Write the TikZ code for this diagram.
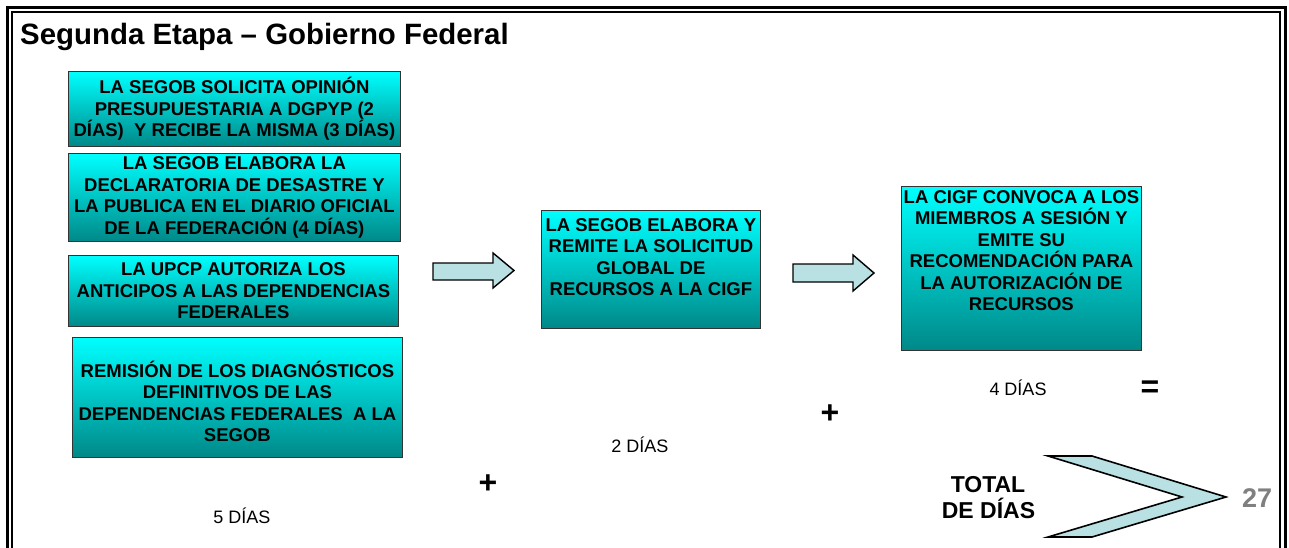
\documentclass[tikz,border=0pt]{standalone}
\usepackage{fontspec}
\setmainfont{Liberation Sans}
\definecolor{boxtop}{RGB}{0,255,255}
\definecolor{boxbot}{RGB}{0,136,136}
\definecolor{arrowfill}{RGB}{185,224,226}
\definecolor{numgray}{RGB}{128,128,128}
\newcommand{\mybox}[4]{\begin{minipage}[c][#2][#3]{#1}\centering\fontsize{18.5}{21.5}\selectfont\bfseries #4\end{minipage}}
\tikzset{
  stepbox/.style={draw=black!80, line width=0.8pt, top color=boxtop, bottom color=boxbot, inner sep=0pt, anchor=north west},
  blockarrow/.style={draw=black, line width=1.4pt, fill=arrowfill, line join=miter},
  daytext/.style={font=\fontsize{18}{21}\selectfont, anchor=base},
  optext/.style={font=\fontsize{32}{36}\selectfont\bfseries, anchor=center},
}
\begin{document}
\begin{tikzpicture}[x=1pt,y=-1pt]
\useasboundingbox (0,0) rectangle (1289,548);
\fill[white] (0,0) rectangle (1289,548);
% frame
\draw[line width=3pt] (7.5,560) -- (7.5,7.5) -- (1285.3,7.5) -- (1285.3,560);
\draw[line width=2pt] (12.2,560) -- (12.2,12.2) -- (1279.5,12.2) -- (1279.5,560);
% title
\node[anchor=base west, inner sep=0pt, font=\fontsize{29.4}{34}\selectfont\bfseries] (title) at (20,45) {Segunda Etapa – Gobierno Federal};
% left column boxes
\node[stepbox] (b1) at (68,71) {\mybox{332pt}{75pt}{c}{LA SEGOB SOLICITA OPINIÓN\\PRESUPUESTARIA A DGPYP (2\\DÍAS)\ \ Y RECIBE LA MISMA (3 DÍAS)}};
\node[stepbox] (b2) at (68,153) {\mybox{332pt}{88pt}{c}{LA SEGOB ELABORA LA\\DECLARATORIA DE DESASTRE Y\\LA PUBLICA EN EL DIARIO OFICIAL\\DE LA FEDERACIÓN (4 DÍAS)}};
\node[stepbox] (b3) at (68,255) {\mybox{330pt}{71pt}{c}{LA UPCP AUTORIZA LOS\\ANTICIPOS A LAS DEPENDENCIAS\\FEDERALES}};
\node[stepbox] (b4) at (72,337) {\mybox{330pt}{120pt}{c}{\vspace*{8pt}REMISIÓN DE LOS DIAGNÓSTICOS\\DEFINITIVOS DE LAS\\DEPENDENCIAS FEDERALES\ \ A LA\\SEGOB}};
% middle box
\node[stepbox] (b5) at (541,210) {\mybox{219pt}{118pt}{t}{\vspace*{8pt}LA SEGOB ELABORA Y\\REMITE LA SOLICITUD\\GLOBAL DE\\RECURSOS A LA CIGF}};
% right box
\node[stepbox] (b6) at (901,186) {\mybox{240pt}{164pt}{t}{\vspace*{4pt}LA CIGF CONVOCA A LOS\\MIEMBROS A SESIÓN Y\\EMITE SU\\RECOMENDACIÓN PARA\\LA AUTORIZACIÓN DE\\RECURSOS}};
% block arrows
\draw[blockarrow] (433,263) -- (493,263) -- (493,253) -- (514,270.5) -- (493,288) -- (493,280) -- (433,280) -- cycle;
\draw[blockarrow] (793,264) -- (853,264) -- (853,255) -- (874,273) -- (853,291) -- (853,282) -- (793,282) -- cycle;
% day labels
\node[daytext] (d5) at (242,523) {5 DÍAS};
\node[daytext] (d2) at (640,452) {2 DÍAS};
\node[daytext] (d4) at (1018,395) {4 DÍAS};
% operators
\node[optext] (p1) at (488,484) {+};
\node[optext] (p2) at (830,414) {+};
\node[optext] (eq) at (1150,389) {=};
% total
\node[anchor=base, font=\fontsize{23}{26}\selectfont\bfseries] (tot1) at (988,492) {TOTAL};
\node[anchor=base, font=\fontsize{23}{26}\selectfont\bfseries] (tot2) at (988.5,518) {DE DÍAS};
\draw[blockarrow, line width=1.6pt] (1048,456) -- (1092,456) -- (1226,497) -- (1092,537) -- (1048,537) -- (1182,497) -- cycle;
\node[anchor=base, text=numgray, font=\fontsize{27}{30}\selectfont\bfseries] (n27) at (1257,507) {27};
\end{tikzpicture}
\end{document}
